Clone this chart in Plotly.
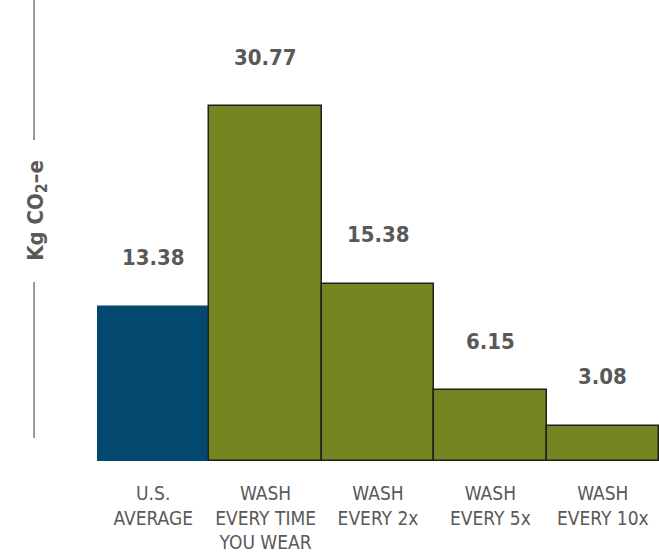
import plotly.graph_objects as go

# Carbon footprint per pair of jeans, by washing frequency
categories = ["U.S.<br>AVERAGE", "WASH<br>EVERY TIME<br>YOU WEAR", "WASH<br>EVERY 2x",
              "WASH<br>EVERY 5x", "WASH<br>EVERY 10x"]
values = [13.38, 30.77, 15.38, 6.15, 3.08]
value_labels = ["13.38", "30.77", "15.38", "6.15", "3.08"]

BLUE = "#03486F"
GREEN = "#758521"
TEXT = "#595959"
FONT = "DejaVu Sans Condensed, Roboto Condensed, Liberation Sans Narrow, sans-serif"

x = list(range(len(values)))
fill_colors = [BLUE] + [GREEN] * (len(values) - 1)
line_colors = [BLUE] + ["#1e1e1e"] * (len(values) - 1)

fig = go.Figure()
fig.add_trace(go.Bar(
    x=x, y=values,
    marker=dict(color=fill_colors, line=dict(color=line_colors, width=1.5)),
    hoverinfo="skip",
))

# value labels above each bar
for xi, v, lab in zip(x, values, value_labels):
    fig.add_annotation(x=xi, y=v, text=f"<b>{lab}</b>", showarrow=False,
                       yanchor="middle", yshift=49,
                       font=dict(family=FONT, size=22, color=TEXT))

# soft baseline under the bars
fig.add_shape(type="line", xref="x", yref="y", x0=-0.5, x1=4.5, y0=0, y1=0,
              line=dict(color="#cfd8df", width=3), layer="below")

# axis title with rules above and below
fig.add_annotation(xref="paper", yref="paper", x=-0.107, y=1 - 210 / 461,
                   text="<b>Kg CO<sub>2</sub>–e</b>", textangle=-90, showarrow=False,
                   xanchor="center", yanchor="middle",
                   font=dict(family=FONT, size=22, color=TEXT))
fig.add_shape(type="line", xref="paper", yref="paper", x0=-0.112, x1=-0.112,
              y0=1 - 140 / 461, y1=1.0, line=dict(color="#777777", width=1.5))
fig.add_shape(type="line", xref="paper", yref="paper", x0=-0.112, x1=-0.112,
              y0=1 - 438 / 461, y1=1 - 282 / 461, line=dict(color="#777777", width=1.5))

fig.update_layout(
    width=659, height=558,
    margin=dict(l=97, r=0, t=0, b=97),
    paper_bgcolor="white", plot_bgcolor="white",
    bargap=0, showlegend=False,
    xaxis=dict(range=[-0.5, 4.5], tickmode="array", tickvals=x, ticktext=categories,
               showgrid=False, zeroline=False, showline=False, ticks="",
               ticklabelstandoff=19, tickangle=0,
               tickfont=dict(family=FONT, size=19, color=TEXT)),
    yaxis=dict(range=[0, 40], visible=False, showgrid=False, zeroline=False),
)

fig.write_html("out.html")
